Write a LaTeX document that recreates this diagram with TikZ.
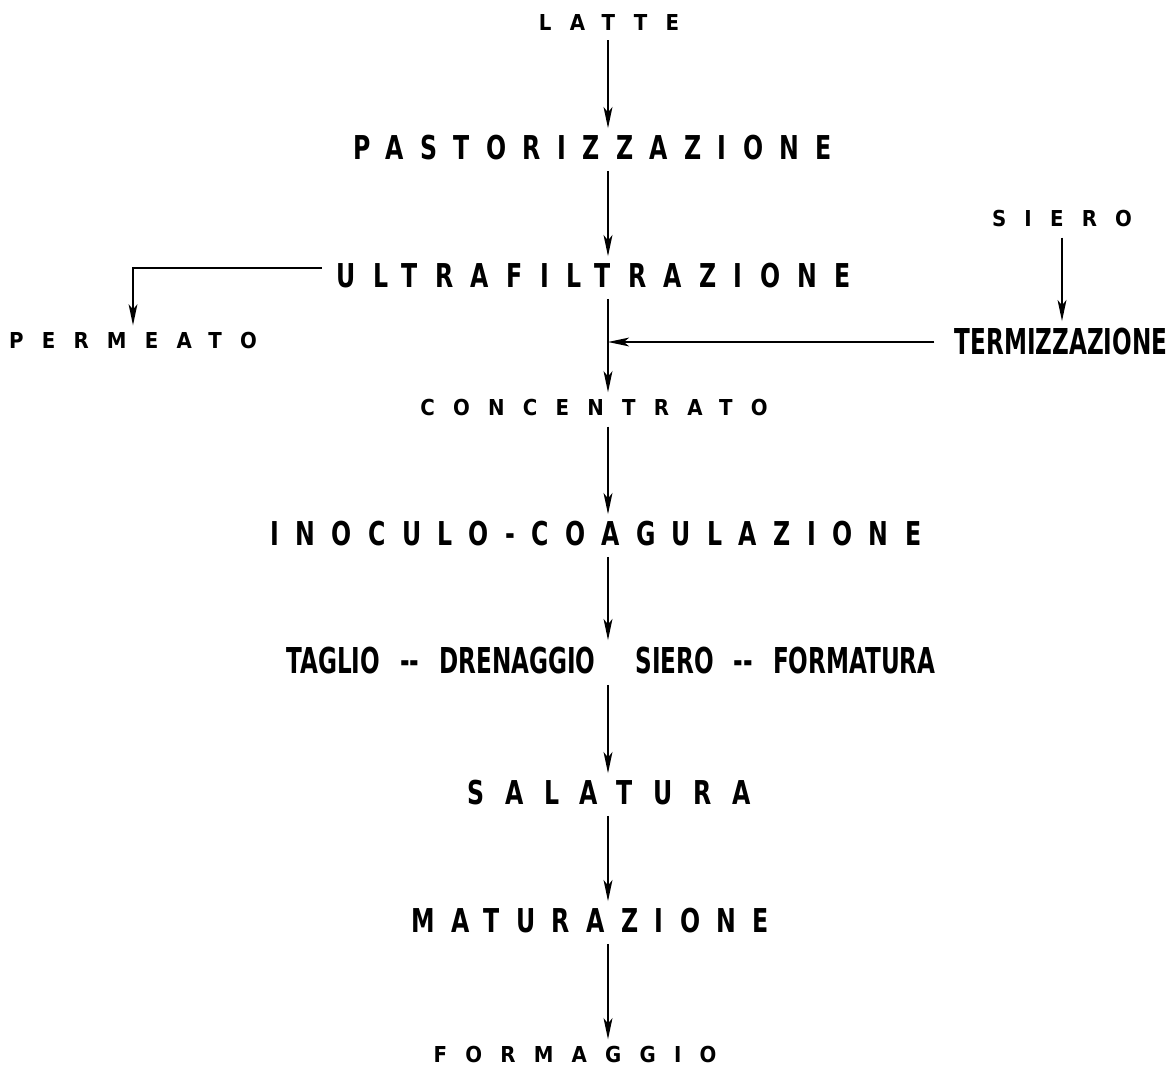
\documentclass[tikz,border=0pt]{standalone}
\usepackage{fontspec}
\setmainfont{DejaVu Sans Condensed}
\usetikzlibrary{arrows.meta}

\tikzset{
  stage/.style={inner sep=0pt, font=\bfseries\fontsize{18.7}{20}\selectfont\addfontfeature{FakeStretch=0.8,LetterSpace=#1}},
  stage/.default=50,
  product/.style={inner sep=0pt, font=\bfseries\fontsize{12.5}{14}\selectfont\addfontfeature{LetterSpace=83}},
  packed/.style={inner sep=0pt, font=\bfseries\fontsize{20.3}{22}\selectfont\addfontfeature{FakeStretch=0.72}},
  flow/.style={line width=1.4pt, -{Stealth[length=12pt,width=5pt,inset=3pt]}, shorten <=0.2cm, shorten >=0.14cm},
  side/.style={line width=1.1pt},
}

\begin{document}
\begin{tikzpicture}[x=0.02cm,y=-0.02cm]
\useasboundingbox (0,0) rectangle (1171,1068);
% main line
\coordinate (axis) at (608,0);
\node[product] (latte) at (609,22) {LATTE};
\node[stage] (pasto) at (593,148) {PASTORIZZAZIONE};
\node[stage=53] (ultra) at (594,276) {ULTRAFILTRAZIONE};
\node[product] (conc) at (594,408) {CONCENTRATO};
\node[stage] (inoc) at (596,534) {INOCULO-COAGULAZIONE};
\node[packed] (taglio) at (611,661) {TAGLIO\hspace{0.4cm}-{}-\hspace{0.4cm}DRENAGGIO\hspace{0.8cm}SIERO\hspace{0.4cm}-{}-\hspace{0.4cm}FORMATURA};
\node[stage=63] (salat) at (609,793) {SALATURA};
\node[stage] (matur) at (590,921) {MATURAZIONE};
\node[product] (form) at (575,1055) {FORMAGGIO};
% side branches
\node[product] (perm) at (133,341) {PERMEATO};
\node[product] (siero) at (1062,219) {SIERO};
\node[packed] (termi) at (1061,342) {TERMIZZAZIONE};
\coordinate (join) at (608,342);

\draw[flow] (latte.south -| axis) -- (pasto.north -| axis);
\draw[flow] (pasto.south -| axis) -- (ultra.north -| axis);
\draw[flow] (ultra.south -| axis) -- (conc.north -| axis);
\draw[flow] (conc.south -| axis) -- (inoc.north -| axis);
\draw[flow] (inoc.south -| axis) -- (taglio.north -| axis);
\draw[flow] (taglio.south -| axis) -- (salat.north -| axis);
\draw[flow] (salat.south -| axis) -- (matur.north -| axis);
\draw[flow] (matur.south -| axis) -- (form.north -| axis);

\draw[flow, side, shorten <=0.3cm] ([yshift=0.16cm]ultra.west) -| (perm.north);
\draw[flow] (siero.south) -- (siero.south |- termi.north);
\draw[flow, side, shorten <=0.4cm, shorten >=0pt] (termi.west) -- (join);
\end{tikzpicture}
\end{document}
